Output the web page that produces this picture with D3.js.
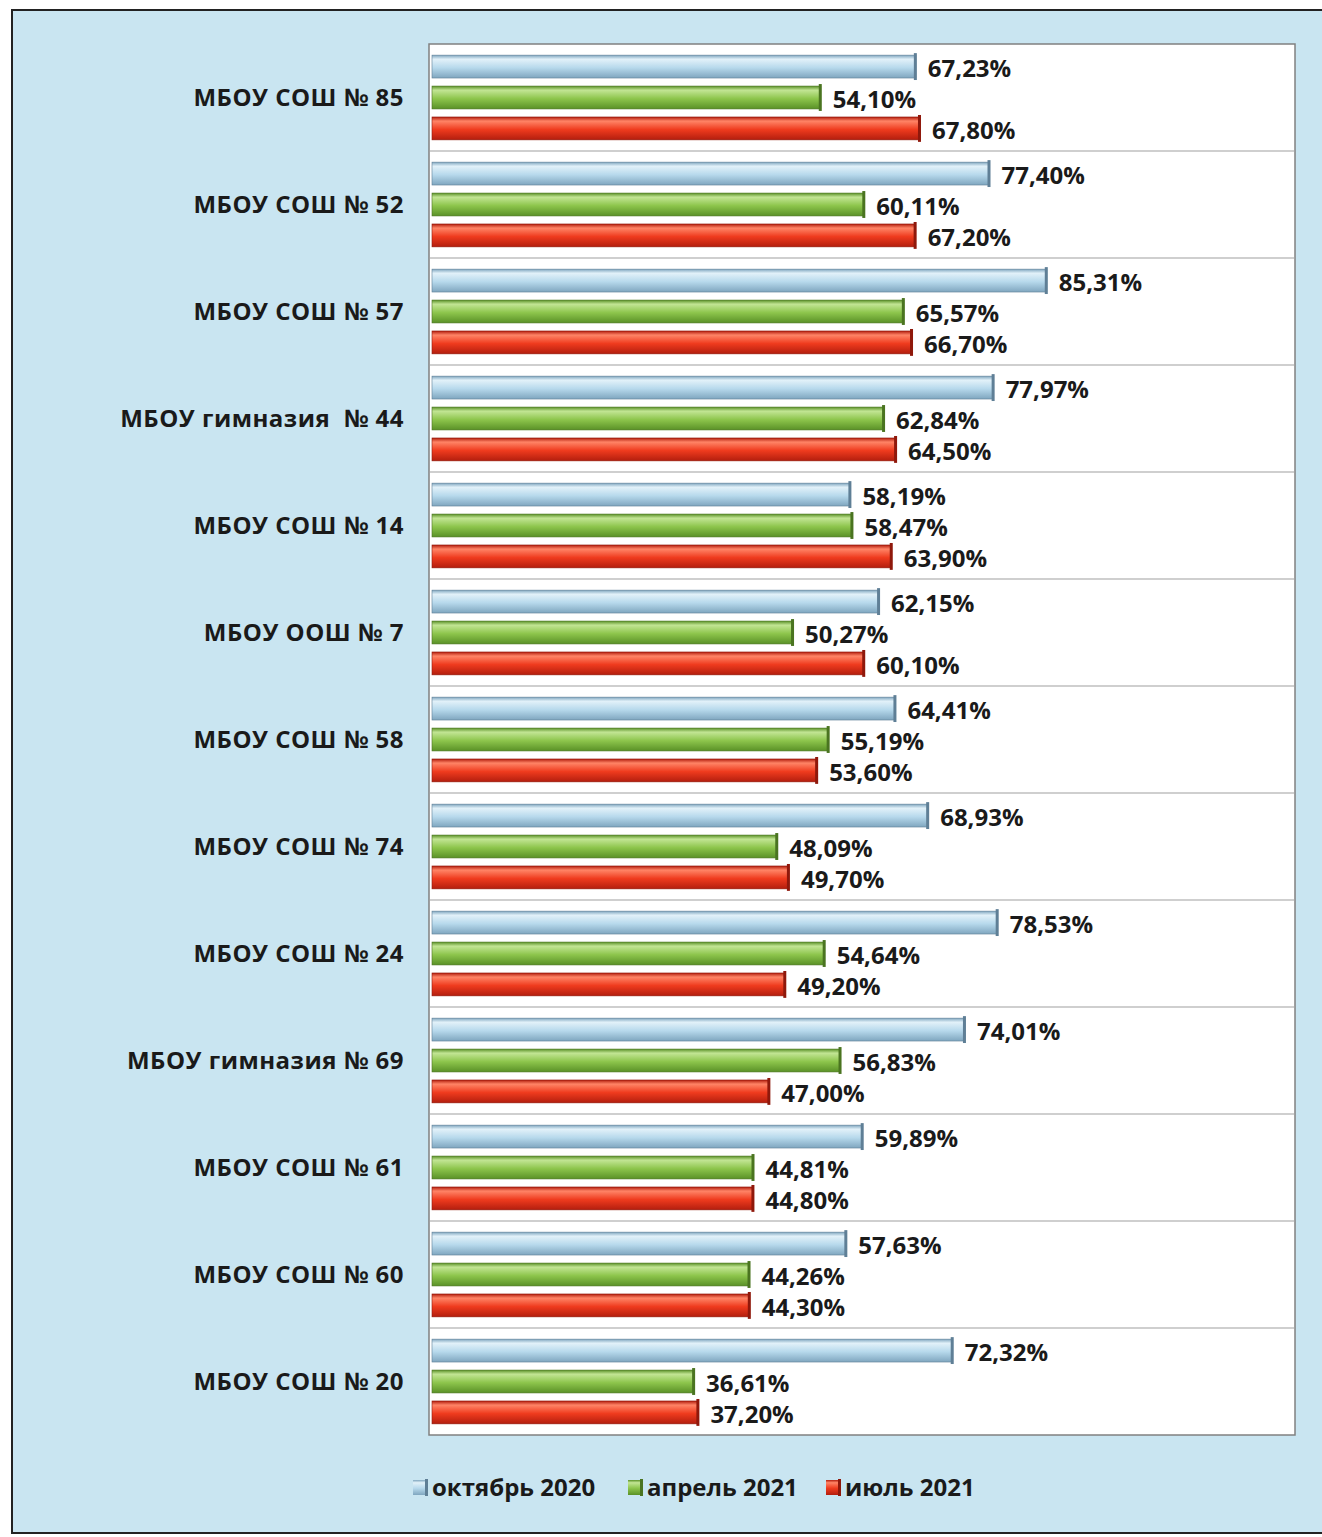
<!DOCTYPE html>
<html>
<head>
<meta charset="utf-8">
<script src="https://cdn.jsdelivr.net/npm/d3@7"></script>
<style>
  body { margin: 0; background: #ffffff; }
  text { font-family: "Open Sans", "Noto Sans", sans-serif; font-weight: bold; fill: #1a1a1a; }
</style>
</head>
<body>
<div id="chart"></div>
<script>
var schools = [
  "МБОУ СОШ № 85", "МБОУ СОШ № 52", "МБОУ СОШ № 57", "МБОУ гимназия  № 44",
  "МБОУ СОШ № 14", "МБОУ ООШ № 7", "МБОУ СОШ № 58", "МБОУ СОШ № 74",
  "МБОУ СОШ № 24", "МБОУ гимназия № 69", "МБОУ СОШ № 61", "МБОУ СОШ № 60",
  "МБОУ СОШ № 20"
];
var seriesNames = ["октябрь 2020", "апрель 2021", "июль 2021"];
var oct2020 = [67.23, 77.40, 85.31, 77.97, 58.19, 62.15, 64.41, 68.93, 78.53, 74.01, 59.89, 57.63, 72.32];
var apr2021 = [54.10, 60.11, 65.57, 62.84, 58.47, 50.27, 55.19, 48.09, 54.64, 56.83, 44.81, 44.26, 36.61];
var jul2021 = [67.80, 67.20, 66.70, 64.50, 63.90, 60.10, 53.60, 49.70, 49.20, 47.00, 44.80, 44.30, 37.20];

function init() {
  var w = 1322;
  var h = 1537;
  var left = 429, right = 1295, top = 44, bottom = 1435;

  var svg = d3.select("#chart").append("svg")
    .attr("width", w)
    .attr("height", h);

  // gradients for the "cylinder" bars
  var colors = [
    { top: "#e2f1f9", mid: "#b7d9ec", bot: "#7fa6bf", cap: "#5f7f96" },
    { top: "#c2e594", mid: "#8dc54c", bot: "#5a9127", cap: "#4a7420" },
    { top: "#ff8466", mid: "#ef3b1e", bot: "#b31e0e", cap: "#8f180b" }
  ];
  var defs = svg.append("defs");
  colors.forEach(function (c, i) {
    var g = defs.append("linearGradient")
      .attr("id", "grad" + i)
      .attr("x1", 0).attr("y1", 0).attr("x2", 0).attr("y2", 1);
    g.append("stop").attr("offset", "0%").attr("stop-color", c.bot);
    g.append("stop").attr("offset", "18%").attr("stop-color", c.top);
    g.append("stop").attr("offset", "55%").attr("stop-color", c.mid);
    g.append("stop").attr("offset", "100%").attr("stop-color", c.bot);
  });

  // page background and frame
  svg.append("rect")
    .attr("x", 12).attr("y", 10)
    .attr("width", w).attr("height", 1523)
    .attr("fill", "#c9e5f1")
    .attr("stroke", "#222")
    .attr("stroke-width", 2);

  // plot area
  svg.append("rect")
    .attr("x", left).attr("y", top)
    .attr("width", right - left).attr("height", bottom - top)
    .attr("fill", "#ffffff")
    .attr("stroke", "#808080")
    .attr("stroke-width", 1.5);

  var x = d3.scaleLinear().domain([0, 120]).range([left, left + 869]);

  var y0 = d3.scaleBand().domain(schools).range([top, bottom]);
  var y1 = d3.scaleBand().domain(seriesNames)
    .range([0, y0.bandwidth()])
    .paddingInner(0.26)
    .paddingOuter(0.36);

  // separators between categories
  svg.append("g")
    .selectAll("line")
    .data(schools.slice(1))
    .enter()
    .append("line")
    .attr("x1", left).attr("x2", right)
    .attr("y1", (d) => y0(d)).attr("y2", (d) => y0(d))
    .attr("stroke", "#a0a0a0")
    .attr("stroke-width", 1.2);

  // category labels
  svg.append("g")
    .selectAll("text")
    .data(schools)
    .enter()
    .append("text")
    .attr("x", 404)
    .attr("y", (d) => y0(d) + y0.bandwidth() / 2)
    .attr("dy", "0.35em")
    .attr("text-anchor", "end")
    .attr("font-size", "24px")
    .attr("letter-spacing", "0.5px")
    .style("white-space", "pre")
    .text((d) => d);

  var allSeries = [oct2020, apr2021, jul2021];
  var rows = [];
  schools.forEach(function (s, i) {
    seriesNames.forEach(function (n, j) {
      rows.push({ school: s, series: n, idx: j, value: allSeries[j][i] });
    });
  });

  var bars = svg.append("g")
    .selectAll("g")
    .data(rows)
    .enter()
    .append("g")
    .attr("transform", (d) => "translate(0," + (y0(d.school) + y1(d.series)) + ")");

  bars.append("rect")
    .attr("x", x(0) + 3)
    .attr("y", 0)
    .attr("width", (d) => x(d.value) - x(0) - 3)
    .attr("height", y1.bandwidth())
    .attr("fill", (d) => "url(#grad" + d.idx + ")")
    .attr("stroke", (d) => colors[d.idx].cap)
    .attr("stroke-width", 0.6);

  // end cap
  bars.append("rect")
    .attr("x", (d) => x(d.value) - 2)
    .attr("y", -2)
    .attr("width", 3)
    .attr("height", y1.bandwidth() + 4)
    .attr("fill", (d) => colors[d.idx].cap);

  bars.append("text")
    .attr("x", (d) => x(d.value) + 12)
    .attr("y", y1.bandwidth() / 2 + 2)
    .attr("dy", "0.35em")
    .attr("font-size", "24px")
    .text((d) => d.value.toFixed(2).replace(".", ",") + "%");

  // legend
  var legend = svg.append("g").attr("transform", "translate(0,1488)");
  var legendX = [413, 628, 826];
  var items = legend.selectAll("g")
    .data(seriesNames)
    .enter()
    .append("g")
    .attr("transform", (d, i) => "translate(" + legendX[i] + ",0)");
  items.append("rect")
    .attr("x", 0).attr("y", -8)
    .attr("width", 14).attr("height", 15)
    .attr("fill", (d, i) => "url(#grad" + i + ")");
  items.append("rect")
    .attr("x", 12).attr("y", -9)
    .attr("width", 3).attr("height", 17)
    .attr("fill", (d, i) => colors[i].cap);
  items.append("text")
    .attr("x", 19)
    .attr("dy", "0.35em")
    .attr("font-size", "24px")
    .text((d) => d);
}

window.onload = init;
</script>
</body>
</html>
